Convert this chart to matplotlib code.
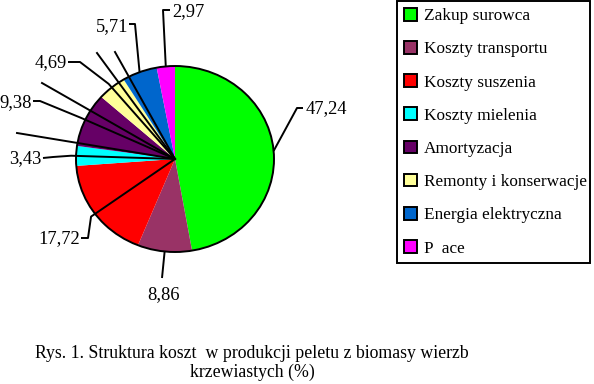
"""
Struktura kosztow produkcji peletu - wykres kolowy
"""

import matplotlib
matplotlib.use("Agg")
import matplotlib.pyplot as plt
from matplotlib.patches import Ellipse, Patch
import numpy as np

######################################################################
# Data
categories = ["Zakup surowca", "Koszty transportu", "Koszty suszenia",
              "Koszty mielenia", "Amortyzacja", "Remonty i konserwacje",
              "Energia elektryczna", "P  ace"]
shares = [47.24, 8.86, 17.72, 3.43, 9.38, 4.69, 5.71, 2.97]
colors = ["#00FF00", "#993366", "#FF0000", "#00FFFF",
          "#660066", "#FFFF99", "#0066CC", "#FF00FF"]
caption = ("Rys. 1. Struktura koszt  w produkcji peletu z biomasy wierzb\n"
           "krzewiastych (%)")

######################################################################
# Layout (pixels of the 594x384 picture)
W, H = 594, 384
CX, CY, RX, RY = 175, 159, 99, 93


def px(x, y):
    # picture pixel -> data units of the pie axes
    return (x - CX) / RX, (CY - y) / RY


# for every slice: does the leader start at the centre, elbow, tick end, text anchor
leaders = [
    (False, (297, 108), (303, 108), (306, 109), "left"),
    (False, (162, 278), None, (164, 295), "center"),
    (True, (88, 238), (81, 238), (80, 239), "right"),
    (True, (53, 157), (43, 158), (42, 159), "right"),
    (True, (40, 101), (33, 101), (32, 103), "right"),
    (True, (80, 62), (68, 62), (67, 63), "right"),
    (False, (135, 24), (129, 24), (128, 27), "right"),
    (False, (163, 10), (170, 10), (172, 12), "left"),
]
# leftover leader lines without a label
stray_ends = [(17, 133), (42, 83), (97, 53), (115, 52)]

FONT = "Liberation Serif"
LW = 1.4

######################################################################
# Figure
fig = plt.figure(figsize=(W / 100, H / 100), dpi=100)
ax = fig.add_axes([0, 0, 1, 1])

wedges, _ = ax.pie(shares, colors=colors, startangle=90, counterclock=False,
                   radius=1, center=(0, 0),
                   wedgeprops=dict(edgecolor="none", linewidth=0))
ax.set_aspect("auto")
x0, y0 = px(0, H)
x1, y1 = px(W, 0)
ax.set_xlim(x0, x1)
ax.set_ylim(y0, y1)
ax.axis("off")

# outer outline
ax.add_patch(Ellipse((0, 0), 2, 2, fill=False, edgecolor="black", lw=LW, zorder=3))

# stray lines from the centre
for ex, ey in stray_ends:
    u, v = px(ex, ey)
    ax.plot([0, u], [0, v], color="black", lw=LW, zorder=4)

# leader lines and value labels
for w, val, (from_centre, elbow, tick, txt, ha) in zip(wedges, shares, leaders):
    mid = np.deg2rad((w.theta1 + w.theta2) / 2)
    edge = (np.cos(mid), np.sin(mid))
    pts = [(0, 0), (1.05 * edge[0], 1.05 * edge[1])] if from_centre else [edge]
    pts.append(px(*elbow))
    if tick is not None:
        pts.append(px(*tick))
    xs, ys = zip(*pts)
    ax.plot(xs, ys, color="black", lw=LW, zorder=4, solid_capstyle="butt")
    tx, ty = px(*txt)
    ax.text(tx, ty, f"{val:.2f}".replace(".", ","), ha=ha, va="center",
            fontsize=13.3, family=FONT, zorder=5)

# legend
handles = [Patch(facecolor=c, edgecolor="black", lw=LW) for c in colors]
leg = fig.legend(handles, categories, loc="upper left",
                 bbox_to_anchor=(397 / W, 0, 193 / W, 1 - 1 / H), mode="expand",
                 borderaxespad=0, borderpad=0.4, labelspacing=0.98,
                 handlelength=0.75, handleheight=0.75, handletextpad=0.4,
                 fancybox=False, prop=dict(family=FONT, size=12.4))
leg.get_frame().set_edgecolor("black")
leg.get_frame().set_linewidth(LW)
leg.get_frame().set_alpha(1)

# caption
fig.text(252 / W, 1 - 363 / H, caption, ha="center", va="center",
         multialignment="center", fontsize=12.8, family=FONT, linespacing=1.15)

fig.savefig("out.png", dpi=100)
